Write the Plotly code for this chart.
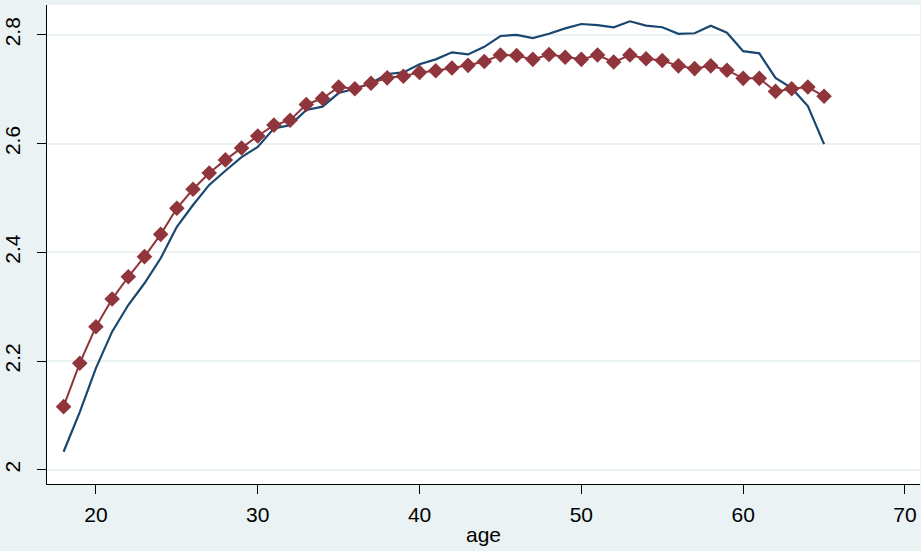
import plotly.graph_objects as go

ages = list(range(18, 66))

# blue line (actual)
blue_vals = [2.033, 2.106, 2.187, 2.254, 2.303, 2.343, 2.389, 2.447, 2.487, 2.524,
             2.550, 2.575, 2.594, 2.628, 2.634, 2.662, 2.668, 2.693, 2.701, 2.711,
             2.728, 2.731, 2.746, 2.755, 2.768, 2.764, 2.778, 2.798, 2.800, 2.794,
             2.802, 2.812, 2.820, 2.818, 2.814, 2.825, 2.817, 2.814, 2.802, 2.803,
             2.817, 2.804, 2.770, 2.766, 2.721, 2.702, 2.669, 2.599]

# red diamonds (fitted)
red_vals = [2.116, 2.196, 2.263, 2.314, 2.355, 2.392, 2.433, 2.481, 2.516, 2.546,
            2.570, 2.592, 2.614, 2.634, 2.643, 2.672, 2.683, 2.704, 2.701, 2.711,
            2.721, 2.724, 2.731, 2.734, 2.739, 2.744, 2.751, 2.763, 2.762, 2.755,
            2.764, 2.759, 2.755, 2.763, 2.750, 2.763, 2.756, 2.753, 2.743, 2.738,
            2.743, 2.735, 2.720, 2.720, 2.696, 2.701, 2.704, 2.687]

x_ticks = [20, 30, 40, 50, 60, 70]
y_ticks = [2.0, 2.2, 2.4, 2.6, 2.8]
y_tick_text = ["2", "2.2", "2.4", "2.6", "2.8"]

BG = "#eaf2f3"
BLUE = "#1a476f"
RED = "#90353b"

fig = go.Figure()
fig.add_trace(go.Scatter(x=ages, y=blue_vals, mode="lines",
                         line=dict(color=BLUE, width=2.2), showlegend=False))
fig.add_trace(go.Scatter(x=ages, y=red_vals, mode="lines+markers",
                         line=dict(color=RED, width=2),
                         marker=dict(symbol="diamond", size=12, color=RED),
                         showlegend=False))

fig.update_layout(
    width=921, height=551,
    paper_bgcolor=BG, plot_bgcolor="white",
    margin=dict(l=47, r=1, t=5, b=67, autoexpand=False),
    font=dict(family="Liberation Sans, Arial, sans-serif", size=20, color="black"),
    xaxis=dict(range=[16.975, 70.93], tickvals=x_ticks, showgrid=False, zeroline=False,
               showline=True, linecolor="black", linewidth=1.2, automargin=False,
               ticks="outside", ticklen=9, tickcolor="black", tickwidth=1,
               tickfont=dict(size=21), ticklabelstandoff=3,
               title=dict(text="age", font=dict(size=21), standoff=2)),
    yaxis=dict(range=[1.9737, 2.855], tickvals=y_ticks, ticktext=y_tick_text,
               showgrid=True, gridcolor=BG, gridwidth=1.5, zeroline=False,
               showline=True, linecolor="black", linewidth=1.2, automargin=False,
               ticks="outside", ticklen=9, tickcolor="black", tickwidth=1,
               tickangle=-90, tickfont=dict(size=21), ticklabelstandoff=9),
)

fig.write_html(
    "out.html",
    config={"displayModeBar": False},
    post_script="document.body.style.margin='0';document.body.style.overflow='hidden';"
                "document.body.style.background='" + BG + "';",
)
